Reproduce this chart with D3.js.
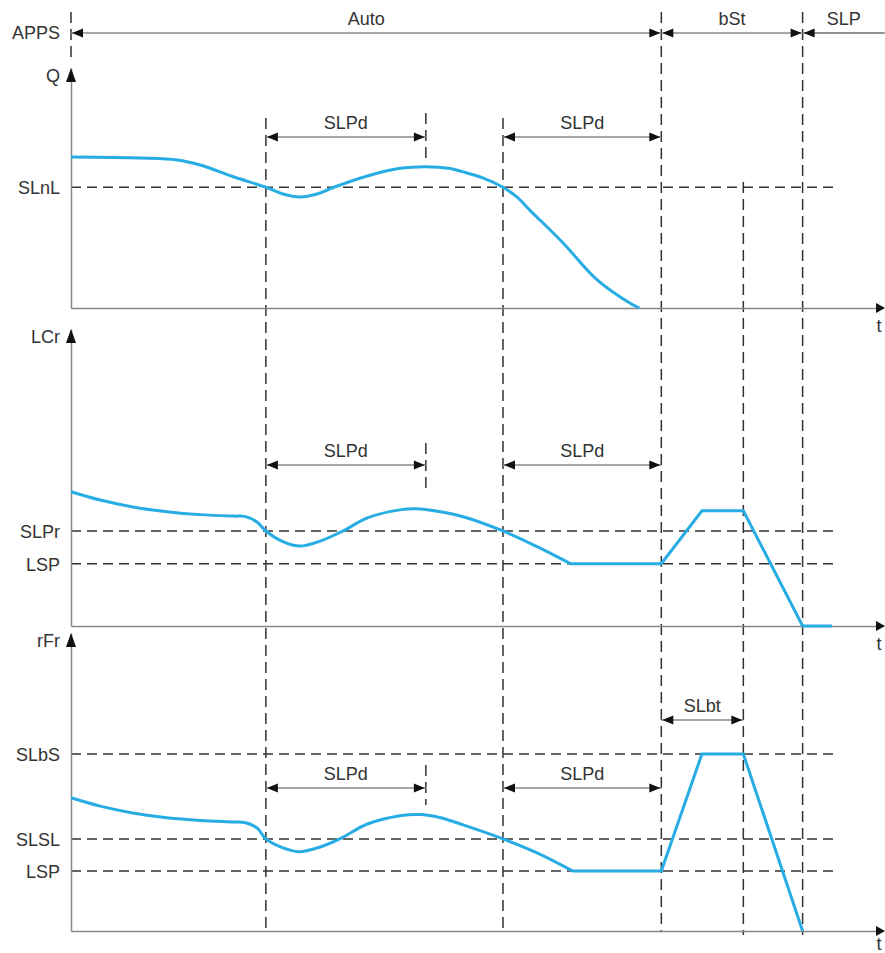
<!DOCTYPE html>
<html>
<head>
<meta charset="utf-8">
<script src="https://cdn.jsdelivr.net/npm/d3@7"></script>
<style>
  body { margin: 0; background: #fff; }
  text { font-family: "Liberation Sans", Arial, sans-serif; font-size: 18px; fill: #333; }
</style>
</head>
<body>
<svg id="chart" width="885" height="953"></svg>
<script>
// time (0..100) of the events
const eventT = [0, 24, 53.2, 72.7, 82.8, 90.1]

// APPS phases
const phaseNames = ['Auto', 'bSt', 'SLP']
const phaseStart = [0, 72.7, 90.1]
const phaseEnd = [72.7, 90.1, 100]

// delays
const slpdStart = [24, 53.2]
const slpdEnd = [43.7, 72.7]
const slbtStart = 72.7
const slbtEnd = 82.8

// Q panel
const qLevels = [50.3]
const qLevelNames = ['SLnL']
const qT = [0, 8.5, 13.1, 15.9, 20, 24, 26.1, 28.2, 30.3, 32.3, 36.5, 40.5, 43.7, 46.7, 48.3, 50.7, 53.2, 54.9, 56.5, 60.6, 64.8, 68.8, 70]
const qV = [62.9, 62.5, 61.7, 59.6, 54.7, 50.3, 47.5, 46.25, 47.5, 50.2, 55, 58.2, 58.9, 58.1, 56.7, 54.2, 50.3, 46.3, 40.8, 27.1, 11.7, 2.1, 0]

// LCr panel
const lcrLevels = [32, 21]
const lcrLevelNames = ['SLPr', 'LSP']
const lcrT = [0, 3.6, 7.6, 11.8, 15.9, 20, 21.4, 22.9, 24, 26.1, 28.2, 30.7, 33.5, 36.5, 40.5, 43, 45.4, 48.3, 53.2, 57.4, 61.5]
const lcrV = [45.2, 42.4, 40.1, 38.5, 37.5, 37, 36.9, 35, 32, 28.4, 26.9, 28.6, 32, 36.4, 39.1, 39.4, 38.5, 36.8, 32, 26.7, 21]
const lcrRampT = [61.5, 72.7, 77.7, 82.8, 90.1, 93.7]
const lcrRampV = [21, 21, 38.8, 38.8, 0, 0]

// rFr panel
const rfrLevels = [59.4, 30.9, 20.1]
const rfrLevelNames = ['SLbS', 'SLSL', 'LSP']
const rfrT = [0, 3.6, 7.6, 11.8, 15.9, 20, 21.4, 22.9, 24, 26.1, 28, 30.7, 33.1, 36.5, 40.5, 43, 45.4, 48.3, 53.2, 57.4, 61.8]
const rfrV = [44.7, 41.9, 39.6, 38, 37.1, 36.6, 36.4, 34.6, 30.9, 27.9, 26.6, 28.2, 30.9, 35.9, 38.7, 39.1, 38.1, 35.6, 30.9, 26.2, 20.1]
const rfrRampT = [61.8, 72.7, 77.7, 82.8, 90.1]
const rfrRampV = [20.1, 20.1, 59.4, 59.4, 0]

const levelEnd = 94.5
const curveColor = '#27ade3'
const dashColor = '#333'

const svg = d3.select('#chart')
const x = d3.scaleLinear().domain([0, 100]).range([71, 883])

function arrowHead(g, xt, yy, dir) {
  // dir: -1 points left, 1 points right
  const b = xt - dir * 11
  g.append('path')
    .attr('d', `M${xt},${yy}L${b},${yy - 4.5}L${b},${yy + 4.5}Z`)
    .attr('fill', '#111')
}

function dimArrow(g, x1, x2, yy, label, leftOnly) {
  g.append('line')
    .attr('x1', x1).attr('x2', x2)
    .attr('y1', yy).attr('y2', yy)
    .attr('stroke', '#888').attr('stroke-width', 1.5)
  arrowHead(g, x1 + 1, yy, -1)
  if (!leftOnly) arrowHead(g, x2 - 1, yy, 1)
  g.append('text')
    .attr('x', leftOnly ? (x1 + 885) / 2 : (x1 + x2) / 2)
    .attr('y', yy - 8)
    .attr('text-anchor', 'middle')
    .text(label)
}

// event dashed lines (drawn first, under everything)
const eventExtent = [[12, 58], [118, 931], [118, 931], [12, 931], [182, 935], [12, 935]]
svg.append('g')
  .selectAll('line')
  .data(eventT)
  .join('line')
  .attr('x1', d => x(d)).attr('x2', d => x(d))
  .attr('y1', (d, i) => eventExtent[i][0])
  .attr('y2', (d, i) => eventExtent[i][1])
  .attr('stroke', dashColor)
  .attr('stroke-width', 1.5)
  .attr('stroke-dasharray', '11,6')

// APPS row
const apps = svg.append('g')
apps.append('text').attr('x', 60).attr('y', 39).attr('text-anchor', 'end').text('APPS')
apps.append('line')
  .attr('x1', x(phaseStart[2])).attr('x2', 885)
  .attr('y1', 33).attr('y2', 33)
  .attr('stroke', '#888').attr('stroke-width', 1.5)
phaseNames.forEach((n, i) => {
  dimArrow(apps, x(phaseStart[i]), x(phaseEnd[i]), 33, n, i === 2)
})

const panels = [
  { name: 'Q', top: 68, axis: 308, levels: qLevels, names: qLevelNames,
    t: qT, v: qV, rt: [], rv: [], delayY: 137, tick: [113, 160] },
  { name: 'LCr', top: 329, axis: 626, levels: lcrLevels, names: lcrLevelNames,
    t: lcrT, v: lcrV, rt: lcrRampT, rv: lcrRampV, delayY: 465, tick: [443, 490] },
  { name: 'rFr', top: 633, axis: 931, levels: rfrLevels, names: rfrLevelNames,
    t: rfrT, v: rfrV, rt: rfrRampT, rv: rfrRampV, delayY: 788, tick: [765, 805] }
]

panels.forEach(p => {
  const g = svg.append('g')
  const y = d3.scaleLinear().domain([0, 100]).range([p.axis, p.top])

  // level dashed lines
  g.selectAll('.level')
    .data(p.levels)
    .join('line')
    .attr('class', 'level')
    .attr('x1', x(0)).attr('x2', x(levelEnd))
    .attr('y1', d => y(d)).attr('y2', d => y(d))
    .attr('stroke', dashColor)
    .attr('stroke-width', 1.5)
    .attr('stroke-dasharray', '10,6')

  // y axis with level names
  const ya = g.append('g')
    .attr('transform', `translate(${x(0)},0)`)
    .call(d3.axisLeft(y).tickValues(p.levels).tickFormat((d, i) => p.names[i])
      .tickSize(0).tickSizeOuter(0).tickPadding(11))
  ya.attr('font-size', null).attr('font-family', null)
  ya.select('.domain').attr('stroke', '#888').attr('stroke-width', 1.5)
  ya.selectAll('text').attr('dy', '0.36em').style('fill', '#333')
  g.append('path')
    .attr('d', `M${x(0)},${p.top}L${x(0) - 5},${p.top + 14}L${x(0) + 5},${p.top + 14}Z`)
    .attr('fill', '#111')
  g.append('text').attr('x', 60).attr('y', p.top + 14).attr('text-anchor', 'end').text(p.name)

  // x axis
  const xa = g.append('g')
    .attr('transform', `translate(0,${p.axis})`)
    .call(d3.axisBottom(x).tickValues([]).tickSizeOuter(0))
  xa.select('.domain').attr('stroke', '#888').attr('stroke-width', 1.5)
  g.append('path')
    .attr('d', `M885,${p.axis}L876,${p.axis - 5}L876,${p.axis + 5}Z`)
    .attr('fill', '#111')
  g.append('text').attr('x', 879).attr('y', Math.min(p.axis + 24, 950))
    .attr('text-anchor', 'middle').text('t')

  // SLPd end ticks
  g.append('line')
    .attr('x1', x(slpdEnd[0])).attr('x2', x(slpdEnd[0]))
    .attr('y1', p.tick[0]).attr('y2', p.tick[1])
    .attr('stroke', dashColor).attr('stroke-width', 1.5)
    .attr('stroke-dasharray', '11,6')

  // delay arrows
  slpdStart.forEach((s, i) => dimArrow(g, x(s), x(slpdEnd[i]), p.delayY, 'SLPd'))

  // curves
  g.append('path')
    .datum(p.t.map((t, i) => [t, p.v[i]]))
    .attr('fill', 'none')
    .attr('stroke', curveColor)
    .attr('stroke-width', 3)
    .attr('d', d3.line().curve(d3.curveCatmullRom.alpha(0.5)).x(d => x(d[0])).y(d => y(d[1])))
  if (p.rt.length) {
    g.append('path')
      .datum(p.rt.map((t, i) => [t, p.rv[i]]))
      .attr('fill', 'none')
      .attr('stroke', curveColor)
      .attr('stroke-width', 3)
      .attr('stroke-linejoin', 'miter')
      .attr('d', d3.line().x(d => x(d[0])).y(d => y(d[1])))
  }
})

// SLbt arrow in rFr panel
dimArrow(svg.append('g'), x(slbtStart), x(slbtEnd), 720, 'SLbt')
</script>
</body>
</html>
